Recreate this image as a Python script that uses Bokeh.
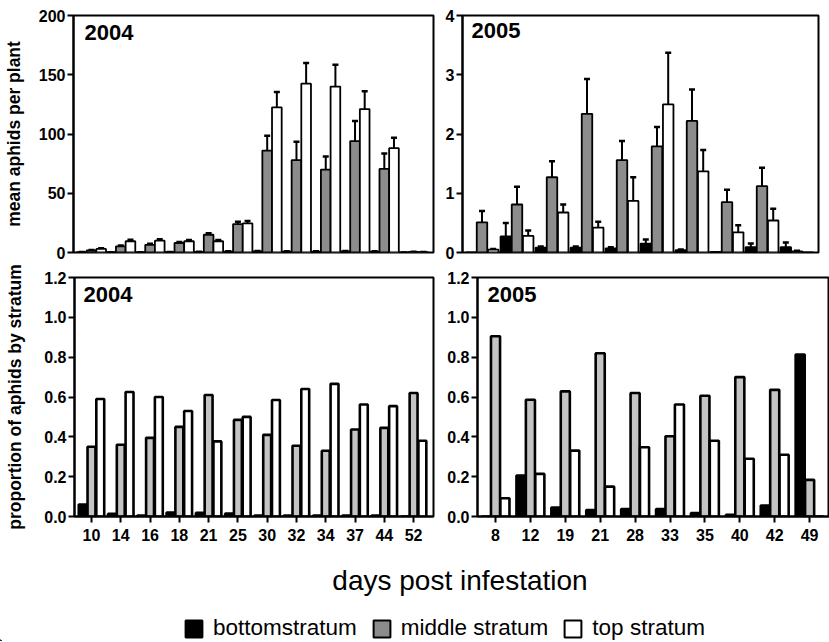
import numpy as np
from bokeh.plotting import figure
from bokeh.layouts import column, row
from bokeh.models import (ColumnDataSource, Whisker, TeeHead, FixedTicker, Label,
                          Legend, LegendItem, Range1d, PrintfTickFormatter)
from bokeh.embed import file_html
from bokeh.resources import INLINE

# ---------------- data ----------------
days_2004 = ["10", "14", "16", "18", "21", "25", "30", "32", "34", "37", "44", "52"]
days_2005 = ["8", "12", "19", "21", "28", "33", "35", "40", "42", "49"]

mean04_bot = [0.3, 0.2, 0.1, 0.35, 0.45, 0.75, 1.0, 0.8, 0.8, 0.9, 0.8, 0.05]
mean04_mid = [1.8, 5.2, 6.5, 8.0, 15.0, 24.0, 86.0, 78.0, 70.0, 94.0, 70.5, 0.5]
mean04_top = [3.0, 9.5, 10.0, 9.5, 9.5, 24.5, 122.5, 142.5, 140.0, 121.0, 88.0, 0.3]
se04_bot = [0.1, 0.1, 0.1, 0.1, 0.1, 0.2, 0.3, 0.3, 0.3, 0.3, 0.3, 0.05]
se04_mid = [0.4, 0.8, 0.8, 0.9, 1.2, 2.0, 12.5, 15.5, 11.0, 17.0, 13.0, 0.2]
se04_top = [0.6, 1.2, 1.2, 1.0, 1.0, 2.0, 13.0, 17.5, 18.5, 15.0, 8.8, 0.1]

mean05_bot = [0.0, 0.27, 0.08, 0.08, 0.07, 0.15, 0.04, 0.01, 0.09, 0.09]
mean05_mid = [0.51, 0.81, 1.27, 2.34, 1.56, 1.79, 2.22, 0.85, 1.12, 0.02]
mean05_top = [0.05, 0.28, 0.675, 0.42, 0.87, 2.5, 1.37, 0.34, 0.54, 0.0]
se05_bot = [0.0, 0.23, 0.02, 0.02, 0.02, 0.07, 0.01, 0.0, 0.06, 0.08]
se05_mid = [0.19, 0.30, 0.27, 0.59, 0.32, 0.33, 0.53, 0.21, 0.31, 0.01]
se05_top = [0.01, 0.09, 0.135, 0.10, 0.40, 0.87, 0.36, 0.12, 0.20, 0.0]

prop04_bot = [0.06, 0.013, 0.005, 0.02, 0.018, 0.015, 0.005, 0.005, 0.005, 0.005, 0.005, 0.0]
prop04_mid = [0.35, 0.36, 0.395, 0.45, 0.61, 0.485, 0.41, 0.355, 0.33, 0.437, 0.445, 0.62]
prop04_top = [0.59, 0.625, 0.60, 0.53, 0.377, 0.50, 0.585, 0.64, 0.666, 0.562, 0.554, 0.38]

prop05_bot = [0.0, 0.206, 0.045, 0.033, 0.038, 0.038, 0.017, 0.008, 0.055, 0.813]
prop05_mid = [0.905, 0.586, 0.628, 0.82, 0.62, 0.403, 0.606, 0.70, 0.636, 0.184]
prop05_top = [0.092, 0.214, 0.331, 0.15, 0.348, 0.562, 0.38, 0.29, 0.31, 0.0]

strata = ["bottomstratum", "middle stratum", "top stratum"]

# ---------------- style ----------------
FONT = "Liberation Sans"
BLACK = "#000000"
GRAY = "#8c8c8c"
LIGHT = "#c4c4c4"
WHITE = "#ffffff"


def make_fig(width, height, xr, yr, mb, show_x):
    p = figure(width=width, height=height, x_range=Range1d(*xr), y_range=Range1d(*yr),
               output_backend="svg", toolbar_location=None,
               x_axis_location="below" if show_x else None,
               min_border_left=mb[0], min_border_right=mb[1],
               min_border_top=mb[2], min_border_bottom=mb[3])
    p.grid.visible = False
    p.outline_line_color = BLACK
    p.outline_line_width = 2
    p.outline_line_alpha = 1
    p.background_fill_color = WHITE
    p.border_fill_color = WHITE
    return p


def style_axis(ax, font_size="16px"):
    ax.major_label_text_font = FONT
    ax.major_label_text_font_style = "bold"
    ax.major_label_text_font_size = font_size
    ax.major_label_text_color = BLACK
    ax.major_tick_out = 6
    ax.major_tick_in = 0
    ax.major_tick_line_width = 2
    ax.major_tick_line_color = BLACK
    ax.minor_tick_line_color = None
    ax.axis_line_width = 2
    ax.axis_line_color = BLACK
    ax.major_label_standoff = 2


def style_y(p, ticks, label=None, standoff=12, fmt=None):
    ax = p.yaxis[0]
    ax.ticker = FixedTicker(ticks=ticks)
    if fmt:
        ax.formatter = PrintfTickFormatter(format=fmt)
    style_axis(ax)
    if label:
        ax.axis_label = label
        ax.axis_label_text_font = FONT
        ax.axis_label_text_font_style = "bold"
        ax.axis_label_text_font_size = "17.5px"
        ax.axis_label_text_color = BLACK
        ax.axis_label_standoff = standoff


def style_x(p, labels):
    ax = p.xaxis[0]
    ax.ticker = FixedTicker(ticks=list(range(len(labels))))
    ax.major_label_overrides = {i: lab for i, lab in enumerate(labels)}
    style_axis(ax)
    ax.major_label_standoff = 6


def draw_bars(p, series, colors, offset, width, lw, errors=None):
    n = len(series[0])
    x = np.arange(n)
    offs = (-offset, 0.0, offset)
    for vals, col, off in zip(series, colors, offs):
        src = ColumnDataSource(dict(x=x + off, top=vals))
        p.vbar(x="x", top="top", width=width, source=src, fill_color=col,
               line_color=BLACK, line_width=lw)
    if errors is not None:
        for vals, se, off in zip(series, errors, offs):
            v = np.array(vals, dtype=float)
            s = np.array(se, dtype=float)
            keep = s > 0
            src = ColumnDataSource(dict(x=(x + off)[keep], lo=v[keep], hi=(v + s)[keep]))
            w = Whisker(source=src, base="x", lower="lo", upper="hi", dimension="height",
                        line_color=BLACK, line_width=2,
                        upper_head=TeeHead(size=6, line_width=2.5, line_color=BLACK),
                        lower_head=None)
            p.add_layout(w)


def year_label(p, text, xr, yr, fw, fh, dx, dy):
    p.add_layout(Label(x=xr[0] + dx * (xr[1] - xr[0]) / fw,
                       y=yr[1] - dy * (yr[1] - yr[0]) / fh,
                       text=text, text_baseline="top", text_align="left",
                       text_font=FONT, text_font_style="bold",
                       text_font_size="22px", text_color=BLACK))


# ---------------- panels ----------------
xr04_top = (-0.615, 11.68)
xr04_bot = (-0.58, 11.68)
xr05_top = (-0.557, 9.614)
xr05_bot = (-0.516, 9.57)

# top-left
yrA = (0, 200)
A = make_fig(440, 265, xr04_top, yrA, (73, 7, 15, 13), False)
style_y(A, [0, 50, 100, 150, 200], "mean aphids per plant", 12)
draw_bars(A, [mean04_bot, mean04_mid, mean04_top], [BLACK, GRAY, WHITE], 0.33, 0.33, 1.8,
          [se04_bot, se04_mid, se04_top])
year_label(A, "2004", xr04_top, yrA, 360, 237, 11, 9)

# top-right
yrB = (0, 4)
B = make_fig(389, 265, xr05_top, yrB, (22, 11, 15, 13), False)
style_y(B, [0, 1, 2, 3, 4])
draw_bars(B, [mean05_bot, mean05_mid, mean05_top], [BLACK, GRAY, WHITE], 0.32, 0.3, 1.8,
          [se05_bot, se05_mid, se05_top])
year_label(B, "2005", xr05_top, yrB, 356, 237, 9, 7)

# bottom-left
yrC = (0, 1.2)
C = make_fig(440, 283, xr04_bot, yrC, (74, 7, 12, 32), True)
style_y(C, [0, 0.2, 0.4, 0.6, 0.8, 1.0, 1.2], "proportion of aphids by stratum", 16, "%.1f")
style_x(C, days_2004)
draw_bars(C, [prop04_bot, prop04_mid, prop04_top], [BLACK, LIGHT, WHITE], 0.3, 0.27, 2.6)
year_label(C, "2004", xr04_bot, yrC, 359, 239, 9, 9)

# bottom-right
D = make_fig(389, 283, xr05_bot, yrC, (37, 0, 12, 32), True)
style_y(D, [0, 0.2, 0.4, 0.6, 0.8, 1.0, 1.2], None, 0, "%.1f")
style_x(D, days_2005)
draw_bars(D, [prop05_bot, prop05_mid, prop05_top], [BLACK, LIGHT, WHITE], 0.27, 0.26, 2.6)
year_label(D, "2005", xr05_bot, yrC, 352, 239, 10, 9)

# ---------------- x label + legend ----------------
FH = 93
F = figure(width=829, height=FH, x_range=Range1d(0, 829), y_range=Range1d(0, FH),
           output_backend="svg", toolbar_location=None,
           x_axis_location=None, y_axis_location=None,
           min_border_left=0, min_border_right=0, min_border_top=0, min_border_bottom=0)
F.grid.visible = False
F.outline_line_color = None
F.background_fill_color = WHITE
F.border_fill_color = WHITE

F.add_layout(Label(x=459.5, y=61, text="days post infestation", text_align="center",
                   text_baseline="alphabetic", text_font=FONT, text_font_size="28px",
                   text_color=BLACK))

legend_colors = [BLACK, GRAY, WHITE]
items = []
for name, col in zip(strata, legend_colors):
    r = F.vbar(x=[-100], top=[1], width=1, fill_color=col, line_color=BLACK, line_width=2)
    items.append(LegendItem(label=name, renderers=[r]))

legend = Legend(items=items, orientation="horizontal", location=(183, 0),
                glyph_width=21, glyph_height=21, label_height=21,
                label_standoff=9, spacing=14, padding=0, margin=0,
                border_line_color=None, background_fill_alpha=0,
                label_text_font=FONT, label_text_font_size="22.5px",
                label_text_color=BLACK)
F.add_layout(legend)

layout = column(row(A, B), row(C, D), F)

open("out.html", "w").write(file_html(layout, INLINE))
